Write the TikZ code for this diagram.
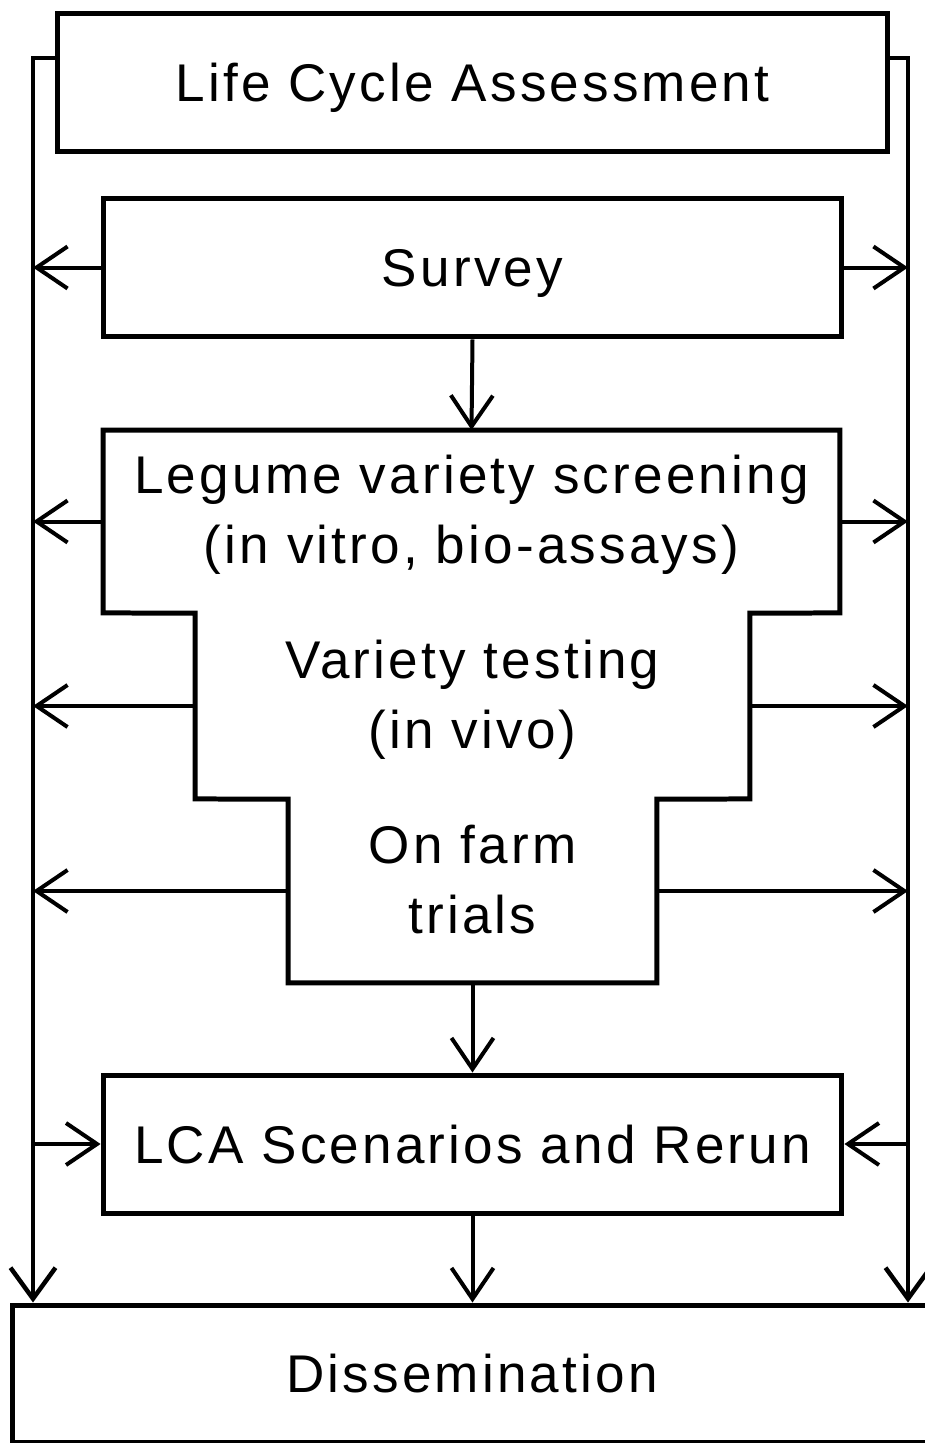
\documentclass[tikz,border=0pt]{standalone}
\usepackage{fontspec}
\setmainfont{Liberation Sans}[LetterSpace=6]
\usetikzlibrary{arrows.meta}

\tikzset{
  box/.style={draw, line width=0.1cm, inner sep=0pt, align=center,
    text height=0.76cm, text depth=0pt},
  stage/.style={inner sep=0pt, outer sep=0pt, align=center, text height=2.12cm, text depth=0.44cm},
  rail/.style={line width=0.09cm},
  flow/.style={line width=0.08cm, -{Straight Barb[length=0.62cm,width=0.84cm]}},
}

\begin{document}
\begin{tikzpicture}[x=0.02cm, y=-0.02cm, font=\fontsize{30.2pt}{39.8pt}\selectfont]
  \useasboundingbox (0,0) rectangle (925,1443);
  \clip (0,0) rectangle (925,1443);
  % Boxes
  \node[box, minimum width=16.62cm, minimum height=2.78cm] (lca) at (472.5,82.5) {Life Cycle Assessment};
  \node[box, minimum width=14.78cm, minimum height=2.78cm] (survey) at (472.5,267.5) {Survey};
  \node[box, minimum width=14.78cm, minimum height=2.76cm] (rerun) at (472.5,1144) {LCA Scenarios and Rerun};
  \node[box, minimum width=18.4cm, minimum height=2.74cm] (dissem) at (472,1373.5) {Dissemination};
  % Stepped stages
  \node[stage, minimum width=14.74cm, minimum height=3.66cm] (screen) at (471.5,521.5)
    {Legume variety screening\\(in vitro, bio-assays)};
  \node[stage, minimum width=11.1cm, minimum height=3.72cm] (vtest) at (472.5,706)
    {Variety testing\\(in vivo)};
  \node[stage, minimum width=7.38cm, minimum height=3.68cm] (farm) at (472.5,891)
    {On farm\\trials};
  \draw[line width=0.1cm] (screen.north west) -- (screen.north east) -- (screen.south east)
    -- (vtest.north east) -- (vtest.south east) -- (farm.north east)
    -- (farm.south east) -- (farm.south west) -- (farm.north west)
    -- (vtest.south west) -- (vtest.north west) -- (screen.south west) -- cycle;
  % Side rails
  \coordinate (railL) at (33,58);
  \coordinate (railR) at (908,58);
  \draw[rail, -{Straight Barb[length=0.62cm,width=0.9cm]}] (lca.west |- railL) -- (railL) -- (railL |- dissem.north);
  \draw[rail, -{Straight Barb[length=0.62cm,width=0.9cm]}] (lca.east |- railR) -- (railR) -- (railR |- dissem.north);
  % Outputs to the rails
  \foreach \n in {survey, screen, vtest, farm} {
    \draw[flow] (\n.west) -- (\n.west -| railL);
    \draw[flow] (\n.east) -- (\n.east -| railR);
  }
  % Main flow
  \draw[flow] (survey.south) -- (screen.north);
  \draw[flow] (farm.south) -- (rerun.north);
  \draw[flow] (rerun.south) -- (rerun.south |- dissem.north);
  \draw[flow] (rerun.west -| railL) -- (rerun.west);
  \draw[flow] (rerun.east -| railR) -- (rerun.east);
\end{tikzpicture}
\end{document}
